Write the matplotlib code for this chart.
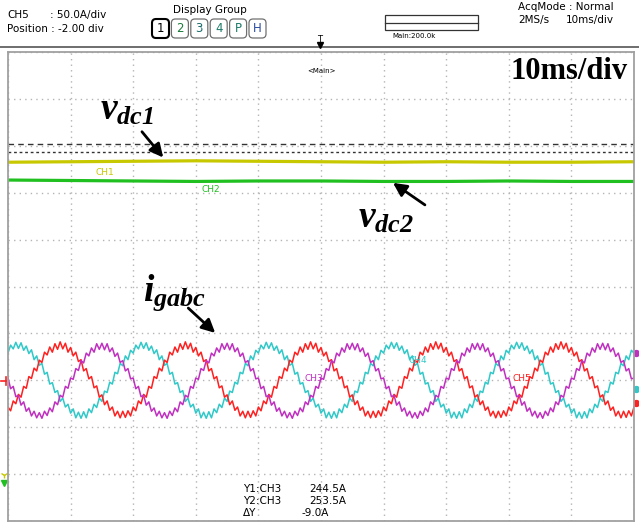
import numpy as np
import matplotlib.pyplot as plt
from matplotlib.patches import FancyBboxPatch

plt.rcParams['mathtext.fontset'] = 'custom'
plt.rcParams['mathtext.it'] = 'Liberation Serif:italic:bold'
plt.rcParams['mathtext.rm'] = 'Liberation Serif:italic:bold'

W, H = 639, 525
SCOPE = 'DejaVu Sans'

# DC link voltages, one reading per division (div)
vdc1 = [2.65, 2.66, 2.67, 2.68, 2.67, 2.66, 2.65, 2.66, 2.65, 2.65, 2.66]
vdc2 = [2.27, 2.26, 2.25, 2.24, 2.25, 2.25, 2.24, 2.24, 2.25, 2.24, 2.24]

# cursor levels (div)
cursor_y1 = 3.04
cursor_y2 = 2.87

# grid currents, one 20 ms period (2 div) read at 48 points, div about the CH position
ch_pos = -2.0
ch5_period = [-0.57, -0.65, -0.44, -0.50, -0.30, -0.36, -0.13, -0.17, 0.08, 0.04,
              0.26, 0.20, 0.43, 0.38, 0.60, 0.54, 0.71, 0.60, 0.78, 0.66,
              0.82, 0.67, 0.79, 0.60, 0.70, 0.52, 0.60, 0.40, 0.44, 0.20,
              0.25, 0.03, 0.08, -0.16, -0.12, -0.36, -0.31, -0.52, -0.44, -0.64,
              -0.57, -0.76, -0.66, -0.80, -0.66, -0.79, -0.65, -0.76]
ch4_period = [0.58, 0.75, 0.67, 0.81, 0.68, 0.80, 0.64, 0.73, 0.57, 0.65,
              0.44, 0.52, 0.32, 0.36, 0.13, 0.17, -0.08, -0.05, -0.26, -0.22,
              -0.45, -0.38, -0.57, -0.51, -0.70, -0.61, -0.80, -0.68, -0.81, -0.67,
              -0.80, -0.61, -0.69, -0.51, -0.58, -0.38, -0.45, -0.23, -0.26, -0.04,
              -0.08, 0.17, 0.14, 0.36, 0.31, 0.52, 0.44, 0.64]
ch3_period = [0.05, -0.18, -0.13, -0.35, -0.32, -0.53, -0.46, -0.66, -0.59, -0.76,
              -0.66, -0.80, -0.69, -0.81, -0.66, -0.75, -0.59, -0.67, -0.46, -0.52,
              -0.32, -0.36, -0.13, -0.17, 0.05, 0.02, 0.25, 0.21, 0.42, 0.37,
              0.58, 0.52, 0.69, 0.60, 0.78, 0.66, 0.79, 0.65, 0.78, 0.61,
              0.69, 0.51, 0.58, 0.38, 0.42, 0.20, 0.25, 0.03]
n_periods = 5

def full_trace(period):
    return np.append(np.tile(period, n_periods), period[0]) + ch_pos

t = np.linspace(0, 10, len(ch5_period) * n_periods + 1)
t_dc = np.linspace(0, 10, len(vdc1))

fig = plt.figure(figsize=(W / 100, H / 100), dpi=100)

# background layer in pixel coordinates for the scope header
bg = fig.add_axes([0, 0, 1, 1], zorder=0)
bg.set_xlim(0, W)
bg.set_ylim(H, 0)
bg.axis('off')

def ftxt(x, y, s, **kw):
    kw.setdefault('family', SCOPE)
    kw.setdefault('fontsize', 7.5)
    kw.setdefault('va', 'center')
    return fig.text(x / W, 1 - y / H, s, **kw)

ftxt(7, 15, 'CH5')
ftxt(50, 15, ': 50.0A/div')
ftxt(7, 29, 'Position : -2.00 div')
ftxt(210, 10, 'Display Group', ha='center')

btn_labels = ['1', '2', '3', '4', 'P', 'H']
btn_colors = ['#000000', '#1a7a3a', '#1a6a6a', '#1a7a6a', '#1a7a6a', '#2a4aa0']
for i, (lab, col) in enumerate(zip(btn_labels, btn_colors)):
    x0 = 152 + i * 19.4
    box = FancyBboxPatch((x0, 19), 17, 19, boxstyle='round,pad=0,rounding_size=4',
                         facecolor='white', edgecolor='black' if i == 0 else '#707070',
                         lw=1.5 if i == 0 else 0.9)
    bg.add_patch(box)
    ftxt(x0 + 8.5, 28.5, lab, ha='center', color=col, fontsize=8.5)

bg.add_patch(plt.Rectangle((385, 15), 93, 15, facecolor='white', edgecolor='#333333', lw=0.9))
bg.plot([385, 478], [23, 23], color='#333333', lw=0.9)
ftxt(392, 36, 'Main:200.0k', fontsize=5)

ftxt(518, 7, 'AcqMode : Normal')
ftxt(518, 20, '2MS/s')
ftxt(566, 20, '10ms/div')

bg.plot([0, W], [47, 47], color='#555555', lw=1.2)
ftxt(320, 40, 'T', fontsize=6, ha='center')
bg.plot([320], [45], marker='v', color='black', markersize=4)

# channel markers at the screen edges
bg.plot([1, 6], [381, 381], color='#ff2020', lw=1.2)
bg.plot([6, 6], [377, 385], color='#ff2020', lw=1.2)
bg.plot([4], [475], marker='1', color='#c8c800', markersize=5)
bg.plot([4], [483], marker='v', color='#20c020', markersize=4)
bg.scatter([636], [353], s=18, color='#c030c0', zorder=3)
bg.scatter([636], [389], s=18, color='#30c8c8', zorder=3)
bg.scatter([636], [403], s=18, color='#ff2020', zorder=3)

# scope screen
ax = fig.add_axes([8 / W, (H - 521) / H, 626 / W, 469 / H], zorder=1)
ax.set_xlim(0, 10)
ax.set_ylim(-5, 5)
ax.set_xticks(range(11))
ax.set_yticks(range(-5, 6))
ax.tick_params(length=0, labelbottom=False, labelleft=False)
ax.grid(True, color='#b4b4b4', linestyle=(0, (1, 3)), lw=1)
for sp in ax.spines.values():
    sp.set_color('#a0a0a0')
    sp.set_linewidth(1.3)

ax.axhline(cursor_y1, color='#333333', lw=1, ls=(0, (4, 3)))
ax.axhline(cursor_y2, color='#333333', lw=1, ls=(0, (2, 2)))

ax.plot(t_dc, vdc1, color='#c8c800', lw=2.3)
ax.plot(t_dc, vdc2, color='#20c020', lw=2.3)

ax.plot(t, full_trace(ch4_period), color='#30c8c8', lw=1.1)
ax.plot(t, full_trace(ch5_period), color='#ff2020', lw=1.1)
ax.plot(t, full_trace(ch3_period), color='#c030c0', lw=1.1)

lab_kw = dict(family=SCOPE, fontsize=6.5, ha='center', va='center')
ax.text(1.55, 2.44, 'CH1', color='#c8c800', **lab_kw)
ax.text(3.24, 2.06, 'CH2', color='#20c020', **lab_kw)
ax.text(4.89, -1.97, 'CH3', color='#c030c0', **lab_kw)
ax.text(6.55, -1.57, 'CH4', color='#30c8c8', **lab_kw)
ax.text(8.21, -1.97, 'CH5', color='#ff2020', **lab_kw)
ax.text(5.0, 4.6, '<Main>', family=SCOPE, fontsize=5, ha='center', va='center')

ax.text(9.9, 4.42, '10ms/div', family='Liberation Serif', fontweight='bold',
        fontsize=22, ha='right', va='baseline')

arrow = dict(arrowstyle='-|>', color='black', lw=2, mutation_scale=20, shrinkA=0, shrinkB=0)
ax.text(1.47, 3.55, r'$v_{dc1}$', fontsize=27, va='baseline')
ax.annotate('', xy=(2.48, 2.75), xytext=(2.14, 3.30), arrowprops=arrow)
ax.text(5.59, 1.25, r'$v_{dc2}$', fontsize=27, va='baseline')
ax.annotate('', xy=(6.15, 2.21), xytext=(6.66, 1.74), arrowprops=arrow)
ax.text(2.16, -0.29, r'$i_{gabc}$', fontsize=27, va='baseline')
ax.annotate('', xy=(3.31, -0.99), xytext=(2.88, -0.46), arrowprops=arrow)

ftxt(243, 489, 'Y1:CH3')
ftxt(309, 489, '244.5A')
ftxt(243, 501, 'Y2:CH3')
ftxt(309, 501, '253.5A')
ftxt(243, 513, 'ΔY')
ftxt(302, 513, '-9.0A')

fig.savefig('out.png', dpi=100)
